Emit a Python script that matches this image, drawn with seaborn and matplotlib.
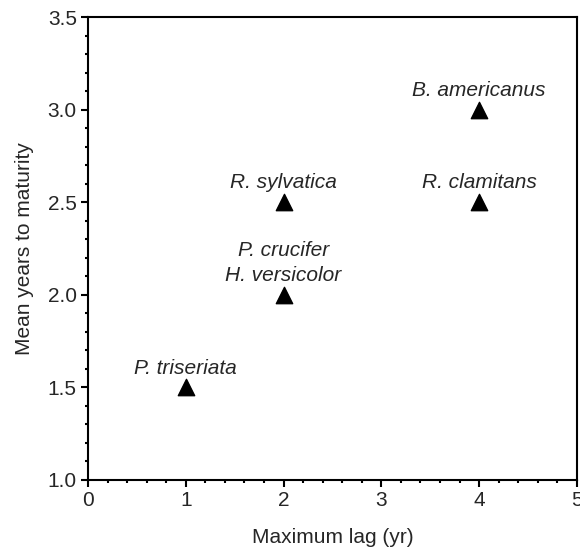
import matplotlib
matplotlib.use("Agg")
import matplotlib.pyplot as plt
import seaborn as sns
import pandas as pd
from matplotlib.ticker import MultipleLocator, FormatStrFormatter

max_lag = [1, 2, 2, 4, 4]
years = [1.5, 2.0, 2.5, 2.5, 3.0]
species = ["P. triseriata", "P. crucifer\nH. versicolor", "R. sylvatica", "R. clamitans", "B. americanus"]

df = pd.DataFrame({"lag": max_lag, "years": years, "species": species})

sns.set_style("white")
plt.rcParams['font.family'] = ['Liberation Sans', 'DejaVu Sans']

fig = plt.figure(figsize=(5.8, 5.49), dpi=100)
ax = fig.add_axes([0.1517, 0.1257, 0.843, 0.8433])
sns.scatterplot(data=df, x="lag", y="years", marker="^", s=140, color="black",
                edgecolor="black", ax=ax, legend=False, zorder=3)

for x, y, t in zip(df["lag"], df["years"], df["species"]):
    ax.annotate(t, (x, y), xytext=(0, 7), textcoords="offset points",
                ha="center", va="bottom", fontsize=15, style="italic",
                linespacing=1.4)

ax.set_xlim(0, 5)
ax.set_ylim(1.0, 3.5)
ax.xaxis.set_major_locator(MultipleLocator(1))
ax.xaxis.set_minor_locator(MultipleLocator(0.2))
ax.yaxis.set_major_locator(MultipleLocator(0.5))
ax.yaxis.set_minor_locator(MultipleLocator(0.1))
ax.yaxis.set_major_formatter(FormatStrFormatter('%.1f'))
ax.tick_params(which="major", direction="out", length=5, width=1.5, labelsize=15,
               color="black", bottom=True, left=True, pad=3)
ax.tick_params(which="minor", direction="out", length=2.5, width=1.5, color="black",
               bottom=True, left=True)
for sp in ax.spines.values():
    sp.set_color("black")
    sp.set_linewidth(1.5)
ax.set_xlabel("Maximum lag (yr)", fontsize=15, labelpad=13)
ax.set_ylabel("Mean years to maturity", fontsize=15, labelpad=10)

fig.savefig("out.png", dpi=100)
